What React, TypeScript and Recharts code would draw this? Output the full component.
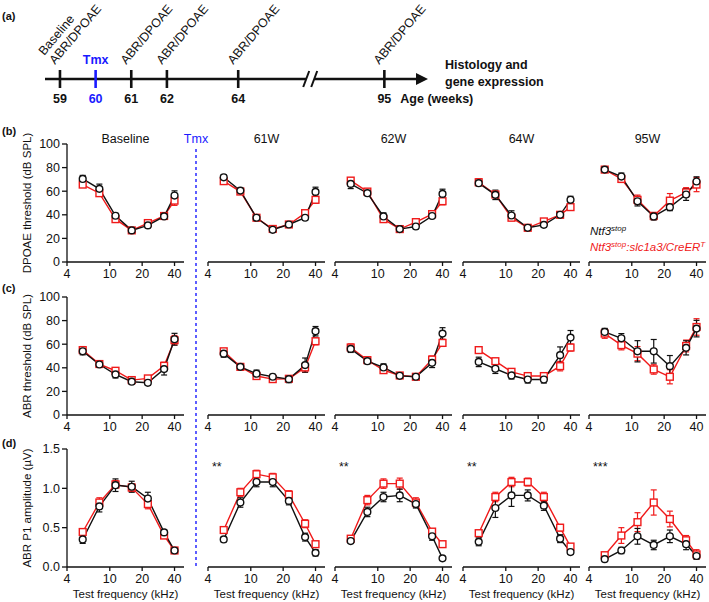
import React from 'react';
import { LineChart, Line, XAxis, YAxis, ErrorBar } from 'recharts';

const FONT = '"Liberation Sans", Arial, sans-serif';
const RED = '#f01a1a';
const BLUE = '#1a1aff';

// test frequencies (kHz)
const freqs = [5.6, 8, 11.3, 16, 22.6, 32, 40];
const panelTitles = ['Baseline', '61W', '62W', '64W', '95W'];

// (b) DPOAE threshold, one row per time point
const dpoaeBlack = [
  [70.4, 62, 39.2, 26.8, 31, 38.6, 56.3],
  [71.8, 60.5, 37.5, 27.3, 31.8, 37.5, 59.4],
  [66.2, 58.3, 38.6, 27.9, 30.1, 39, 57.7],
  [66.8, 56.9, 39.4, 29, 31.5, 40, 52.7],
  [78.3, 72.4, 51.5, 38.6, 46.5, 57.2, 68.2],
];
const dpoaeBlackErr = [
  [3, 4, 2, 1.5, 2, 1.5, 4],
  [2, 2, 1.5, 1.5, 1.5, 2, 4],
  [4, 2, 3, 1.5, 2, 2, 4],
  [2, 4, 4, 1.5, 2, 2, 3],
  [1.5, 3, 4, 3, 3, 5, 4],
];
const dpoaeRed = [
  [65.6, 58.3, 36.3, 26.8, 33, 39, 52],
  [68.5, 59.7, 37.5, 28, 31.8, 41.4, 52.7],
  [69, 59.7, 36.3, 27.9, 33.8, 40.6, 51.5],
  [67.6, 57.2, 37.5, 29, 34.4, 40, 46.5],
  [78.3, 70.4, 52.7, 39, 52, 59, 65.6],
];
const dpoaeRedErr = [
  [2, 2, 2, 1.5, 2, 1.5, 4],
  [2, 2, 1.5, 1.5, 1.5, 2, 3],
  [2, 2, 2, 1.5, 2, 2, 3],
  [3, 2, 2, 1.5, 2, 2, 2],
  [1.5, 3, 4, 3, 6, 4, 6],
];

// (c) ABR threshold
const abrBlack = [
  [54, 42.8, 34.4, 28.2, 27.3, 38.9, 64.2],
  [52, 40.8, 35, 32.4, 30.4, 42.3, 71],
  [56, 45.6, 40.3, 33.2, 32.4, 44.2, 69],
  [45, 39.2, 33.5, 30.1, 30.1, 50.7, 65.6],
  [70.4, 65, 54, 54, 41.4, 56.9, 73.2],
];
const abrBlackErr = [
  [3, 2, 3, 2, 2, 5, 5],
  [3, 2, 3, 2, 3, 6, 4],
  [3, 2, 3, 2, 2, 4, 5],
  [4, 4, 3, 3, 3, 7, 6],
  [3, 4, 9, 10, 9, 6, 7],
];
const abrRed = [
  [55, 43.2, 37.5, 29.6, 31, 41.7, 63.4],
  [54, 40.8, 33, 30.4, 30.7, 40.3, 62.5],
  [57.2, 46.5, 38, 33.5, 32.4, 47, 61.1],
  [55, 45.6, 36.6, 33, 33, 41.4, 57.2],
  [69, 59.2, 52, 38.6, 32.4, 58.5, 74.6],
];
const abrRedErr = [
  [3, 2, 2, 2, 2, 3, 4],
  [2, 2, 2, 2, 2, 4, 3],
  [3, 2, 2, 2, 2, 3, 3],
  [2, 2, 2, 2, 2, 4, 3],
  [4, 4, 6, 4, 6, 5, 7],
];

// (d) ABR P1 amplitude
const p1Black = [
  [0.35, 0.77, 1.04, 1.02, 0.87, 0.44, 0.21],
  [0.35, 0.82, 1.08, 1.08, 0.84, 0.38, 0.18],
  [0.33, 0.7, 0.89, 0.91, 0.8, 0.39, 0.11],
  [0.32, 0.75, 0.91, 0.91, 0.78, 0.36, 0.19],
  [0.1, 0.21, 0.39, 0.28, 0.39, 0.29, 0.14],
];
const p1BlackErr = [
  [0.05, 0.07, 0.08, 0.07, 0.08, 0.03, 0.03],
  [0.03, 0.06, 0.06, 0.06, 0.05, 0.05, 0.04],
  [0.03, 0.06, 0.06, 0.08, 0.05, 0.05, 0.02],
  [0.05, 0.12, 0.14, 0.07, 0.06, 0.05, 0.03],
  [0.02, 0.04, 0.1, 0.06, 0.08, 0.07, 0.04],
];
const p1Red = [
  [0.445, 0.82, 1.05, 1.01, 0.8, 0.4, 0.21],
  [0.47, 0.95, 1.18, 1.14, 0.92, 0.55, 0.29],
  [0.36, 0.85, 1.06, 1.06, 0.82, 0.45, 0.29],
  [0.43, 0.89, 1.08, 1.08, 0.89, 0.5, 0.26],
  [0.15, 0.4, 0.57, 0.82, 0.61, 0.34, 0.16],
];
const p1RedErr = [
  [0.03, 0.06, 0.05, 0.05, 0.06, 0.03, 0.03],
  [0.04, 0.05, 0.05, 0.05, 0.05, 0.05, 0.03],
  [0.03, 0.06, 0.06, 0.07, 0.06, 0.03, 0.03],
  [0.03, 0.06, 0.06, 0.05, 0.06, 0.04, 0.03],
  [0.03, 0.1, 0.12, 0.16, 0.1, 0.06, 0.06],
];
const p1Stars = ['', '**', '**', '**', '***'];

// (a) timeline
const weeks = [59, 60, 61, 62, 64, 95];
const weekPos = [0, 1, 2, 3, 5, 9.1]; // axis is broken between 64 and 95
const weekLabels = [['Baseline', 'ABR/DPOAE'], ['Tmx'], ['ABR/DPOAE'], ['ABR/DPOAE'], ['ABR/DPOAE'], ['ABR/DPOAE']];
const breakPos = 7.02;
const arrowPos = 10.1;

const colLeft = [67, 208, 335, 463, 589];
const rowTop = [144, 297, 449];
const PW = 117;
const PH = 118;

const Square = (props: any) => {
  const { cx, cy } = props;
  if (cx == null || cy == null) return null;
  return <rect x={cx - 3.4} y={cy - 3.4} width={6.8} height={6.8} fill="#fff" stroke={RED} strokeWidth={1.4} />;
};

type PanelProps = {
  col: number;
  top: number;
  black: number[];
  blackErr: number[];
  red: number[];
  redErr: number[];
  yMax: number;
  yTicks: number[];
  yFmt: (v: number) => string;
};

const Panel = ({ col, top, black, blackErr, red, redErr, yMax, yTicks, yFmt }: PanelProps) => {
  const first = col === 0;
  const data = freqs.map((f, i) => ({ f, b: black[i], be: blackErr[i], r: red[i], re: redErr[i] }));
  const ML = first ? 62 : 8;
  const left = colLeft[col];
  return (
    <div style={{ position: 'absolute', left: left - ML, top: top - 8 }}>
      <LineChart
        width={ML + PW + 8}
        height={8 + PH + 26}
        data={data}
        margin={{ top: 8, right: 8, bottom: 0, left: first ? ML - 50 : ML }}
      >
        <XAxis
          dataKey="f"
          type="number"
          scale="log"
          domain={[4, 49]}
          ticks={[4, 10, 20, 40]}
          allowDataOverflow
          height={26}
          interval={0}
          tickSize={4}
          tickMargin={3}
          axisLine={{ stroke: '#111', strokeWidth: 1.3 }}
          tickLine={{ stroke: '#111', strokeWidth: 1.3 }}
          tick={{ fill: '#111', fontSize: 12.5, fontFamily: FONT }}
        />
        <YAxis
          type="number"
          domain={[0, yMax]}
          ticks={yTicks}
          hide={!first}
          width={50}
          interval={0}
          tickSize={5}
          tickMargin={2}
          tickFormatter={yFmt}
          axisLine={{ stroke: '#111', strokeWidth: 1.3 }}
          tickLine={{ stroke: '#111', strokeWidth: 1.3 }}
          tick={{ fill: '#111', fontSize: 12.5, fontFamily: FONT }}
        />
        <Line
          dataKey="r"
          stroke={RED}
          strokeWidth={1.4}
          dot={<Square />}
          activeDot={false}
          isAnimationActive={false}
        >
          <ErrorBar dataKey="re" width={3} stroke={RED} strokeWidth={1.2} direction="y" />
        </Line>
        <Line
          dataKey="b"
          stroke="#111"
          strokeWidth={1.4}
          dot={{ r: 3.4, fill: '#fff', stroke: '#111', strokeWidth: 1.4 }}
          activeDot={false}
          isAnimationActive={false}
        >
          <ErrorBar dataKey="be" width={3} stroke="#111" strokeWidth={1.2} direction="y" />
        </Line>
      </LineChart>
    </div>
  );
};

const TimelineTick = (props: any) => {
  const { x, y, payload } = props;
  const v = payload.value;
  if (v === breakPos) {
    return (
      <g>
        <rect x={x - 4} y={y - 3} width={8} height={6} fill="#fff" />
        <line x1={x - 7} y1={y + 8} x2={x - 1} y2={y - 8} stroke="#111" strokeWidth={2} />
        <line x1={x + 1} y1={y + 8} x2={x + 7} y2={y - 8} stroke="#111" strokeWidth={2} />
      </g>
    );
  }
  if (v === arrowPos) {
    return (
      <g>
        <polygon points={`${x - 4},${y - 6} ${x + 8},${y} ${x - 4},${y + 6}`} fill="#111" />
        <text x={x + 25} y={y - 10} fontSize={12.5} fontWeight="bold" fontFamily={FONT} fill="#111">Histology and</text>
        <text x={x + 25} y={y + 7} fontSize={12.5} fontWeight="bold" fontFamily={FONT} fill="#111">gene expression</text>
      </g>
    );
  }
  const i = weekPos.indexOf(v);
  if (i < 0) return null;
  const isTmx = weeks[i] === 60;
  const color = isTmx ? BLUE : '#111';
  const labels = weekLabels[i];
  return (
    <g>
      <line x1={x} y1={y - 9} x2={x} y2={y + 9} stroke={color} strokeWidth={2.6} />
      <text x={x} y={y + 24} textAnchor="middle" fontSize={12.5} fontWeight="bold" fontFamily={FONT} fill={color}>
        {weeks[i]}
      </text>
      {weeks[i] === 95 && (
        <text x={x + 16} y={y + 24} fontSize={12.5} fontWeight="bold" fontFamily={FONT} fill="#111">Age (weeks)</text>
      )}
      {isTmx ? (
        <text x={x} y={y - 15} textAnchor="middle" fontSize={12.5} fontWeight="bold" fontFamily={FONT} fill={BLUE}>Tmx</text>
      ) : (
        <g transform={`translate(${x - 5},${y - 14}) rotate(-50)`}>
          {labels.map((t, k) => (
            <text key={t} x={0} y={-(labels.length - 1 - k) * 14} fontSize={12.5} fontFamily={FONT} fill="#111">{t}</text>
          ))}
        </g>
      )}
    </g>
  );
};

const Timeline = () => {
  const data = weekPos.map((p) => ({ x: p, y: 0 }));
  return (
    <div style={{ position: 'absolute', left: 0, top: 0 }}>
      <LineChart width={709} height={112} data={data} margin={{ top: 0, right: 709 - 420, bottom: 0, left: 45 }}>
        <XAxis
          dataKey="x"
          type="number"
          domain={[-0.42, arrowPos]}
          ticks={[...weekPos, breakPos, arrowPos]}
          interval={0}
          height={33}
          tickSize={0}
          tickMargin={0}
          tickLine={false}
          axisLine={{ stroke: '#111', strokeWidth: 2.6 }}
          tick={<TimelineTick />}
        />
        <YAxis hide domain={[0, 1]} />
        <Line dataKey="y" stroke="none" dot={false} activeDot={false} isAnimationActive={false} />
      </LineChart>
    </div>
  );
};

const txt = { fontFamily: FONT, fill: '#111' };

export default function App() {
  const rowLabels = ['DPOAE threshold (dB SPL)', 'ABR threshold (dB SPL)', 'ABR P1 amplitude (\u00b5V)'];
  return (
    <div style={{ position: 'absolute', left: 0, top: 0, width: 709, height: 602, background: '#fff', fontFamily: FONT }}>
      <Timeline />
      {panelTitles.map((_, c) => (
        <React.Fragment key={c}>
          <Panel col={c} top={rowTop[0]} black={dpoaeBlack[c]} blackErr={dpoaeBlackErr[c]} red={dpoaeRed[c]} redErr={dpoaeRedErr[c]}
            yMax={100} yTicks={[0, 20, 40, 60, 80, 100]} yFmt={(v) => String(v)} />
          <Panel col={c} top={rowTop[1]} black={abrBlack[c]} blackErr={abrBlackErr[c]} red={abrRed[c]} redErr={abrRedErr[c]}
            yMax={100} yTicks={[0, 20, 40, 60, 80, 100]} yFmt={(v) => String(v)} />
          <Panel col={c} top={rowTop[2]} black={p1Black[c]} blackErr={p1BlackErr[c]} red={p1Red[c]} redErr={p1RedErr[c]}
            yMax={1.5} yTicks={[0, 0.5, 1, 1.5]} yFmt={(v) => v.toFixed(1)} />
        </React.Fragment>
      ))}
      <svg width={709} height={602} style={{ position: 'absolute', left: 0, top: 0, pointerEvents: 'none' }}>
        <text x={2} y={20} fontSize={11} fontWeight="bold" {...txt}>(a)</text>
        <text x={2} y={135} fontSize={11} fontWeight="bold" {...txt}>(b)</text>
        <text x={2} y={292} fontSize={11} fontWeight="bold" {...txt}>(c)</text>
        <text x={2} y={447} fontSize={11} fontWeight="bold" {...txt}>(d)</text>
        {panelTitles.map((t, c) => (
          <text key={t} x={colLeft[c] + PW / 2} y={143} textAnchor="middle" fontSize={12.5} {...txt}>{t}</text>
        ))}
        <text x={196} y={143} textAnchor="middle" fontSize={12.5} fontFamily={FONT} fill={BLUE}>Tmx</text>
        <line x1={196} y1={149} x2={196} y2={568} stroke={BLUE} strokeWidth={1.4} strokeDasharray="3 3" />
        {rowLabels.map((t, r) => (
          <text key={t} transform={`translate(31,${rowTop[r] + PH / 2}) rotate(-90)`} textAnchor="middle" fontSize={11.5} {...txt}>{t}</text>
        ))}
        {p1Stars.map((s, c) =>
          s ? (
            <text key={c} x={colLeft[c] + 4} y={471} fontSize={12.5} {...txt}>{s}</text>
          ) : null
        )}
        {colLeft.map((l, c) => (
          <text key={c} x={l + PW / 2} y={598} textAnchor="middle" fontSize={11.5} {...txt}>Test frequency (kHz)</text>
        ))}
        <text x={590} y={235} fontSize={11.5} fontStyle="italic" {...txt}>
          Ntf3<tspan dy={-4} fontSize={8}>stop</tspan>
        </text>
        <text x={590} y={251} fontSize={11.5} fontStyle="italic" fontFamily={FONT} fill={RED}>
          Ntf3<tspan dy={-4} fontSize={8}>stop</tspan>
          <tspan dy={4}>:slc1a3/CreER</tspan>
          <tspan dy={-4} fontSize={8}>T</tspan>
        </text>
      </svg>
    </div>
  );
}
